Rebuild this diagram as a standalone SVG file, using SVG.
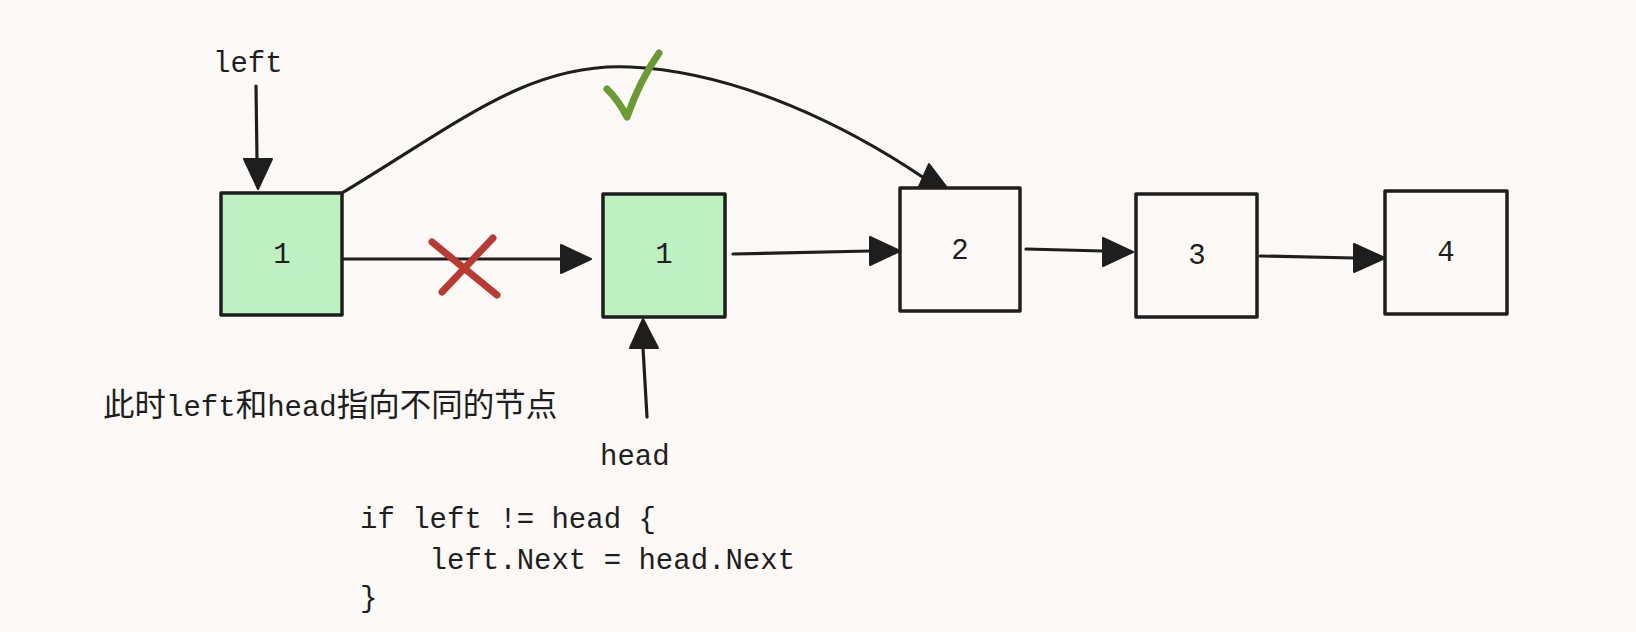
<svg xmlns="http://www.w3.org/2000/svg" width="1636" height="632" viewBox="0 0 1636 632">
<style>
.bg{fill:#fcf9f6}
.box{stroke:#1e1e1e;stroke-width:3.5;stroke-linejoin:round}
.g{fill:#bdf1c1}
.w{fill:#fcf9f6}
.t{font-family:"Liberation Mono","DejaVu Sans Mono",monospace;font-size:29px;fill:#1e1e1e}
.c{text-anchor:middle}
.cjk{font-family:"Noto Sans CJK SC","Noto Sans CJK JP",sans-serif;font-size:31.5px}
.ln{fill:none;stroke:#1e1e1e;stroke-width:3.2;stroke-linecap:round}
.ah{fill:#1e1e1e;stroke:#1e1e1e;stroke-width:2;stroke-linejoin:round}
.x{stroke:#b93a32;stroke-width:7;stroke-linecap:round;fill:none}
.ok{stroke:#6a9a30;stroke-width:7;stroke-linecap:round;stroke-linejoin:round;fill:none}
</style>
<rect class="bg" x="0" y="0" width="1636" height="632"/>
<g id="connectors">
<path class="ln" d="M256 86 L257 160"/>
<polygon class="ah" points="258,189 244,159 272,159"/>
<path class="ln" d="M647 417 L643 348"/>
<polygon class="ah" points="643,319 630,348 658,348"/>
<path class="ln" d="M342 259 L561 259"/>
<polygon class="ah" points="591,259 561,245 561,273"/>
<path class="ln" d="M733 254 L870 251"/>
<polygon class="ah" points="900,251 870,237 870,265"/>
<path class="ln" d="M1026 249 L1103 251"/>
<polygon class="ah" points="1133,252 1103,238 1103,266"/>
<path class="ln" d="M1260 256 L1354 258"/>
<polygon class="ah" points="1385,258 1354,244 1354,272"/>
<path class="ln" d="M329 199 L342 193 C460 122 530 62 630 67 C740 72 850 128 924 178"/>
<polygon class="ah" points="929,164 918,189 948,189"/>
</g>
<g id="node-left-1">
<rect class="box g" x="221" y="193" width="121" height="122"/>
<text class="t c" x="282" y="263">1</text>
</g>
<g id="node-head-1">
<rect class="box g" x="603" y="194" width="122" height="123"/>
<text class="t c" x="664" y="263">1</text>
</g>
<g id="node-2">
<rect class="box w" x="900" y="188" width="120" height="123"/>
<text class="t c" x="960" y="259">2</text>
</g>
<g id="node-3">
<rect class="box w" x="1136" y="194" width="121" height="123"/>
<text class="t c" x="1197" y="264">3</text>
</g>
<g id="node-4">
<rect class="box w" x="1385" y="191" width="122" height="123"/>
<text class="t c" x="1446" y="261">4</text>
</g>
<g id="mark-x">
<path class="x" d="M432 242 L497 295"/>
<path class="x" d="M493 238 L442 292"/>
</g>
<g id="mark-check">
<path class="ok" d="M607 89 Q619 101 627 117 Q640 80 659 53"/>
</g>
<g id="label-left">
<text class="t" x="213" y="72">left</text>
</g>
<g id="label-head">
<text class="t" x="600" y="465">head</text>
</g>
<g id="label-note">
<text class="t" x="103" y="416"><tspan class="cjk">此时</tspan>left<tspan class="cjk">和</tspan>head<tspan class="cjk">指向不同的节点</tspan></text>
</g>
<g id="label-code">
<text class="t" x="360" y="528" xml:space="preserve">if left != head {</text>
<text class="t" x="360" y="569" xml:space="preserve">    left.Next = head.Next</text>
<text class="t" x="360" y="607">}</text>
</g>
</svg>
